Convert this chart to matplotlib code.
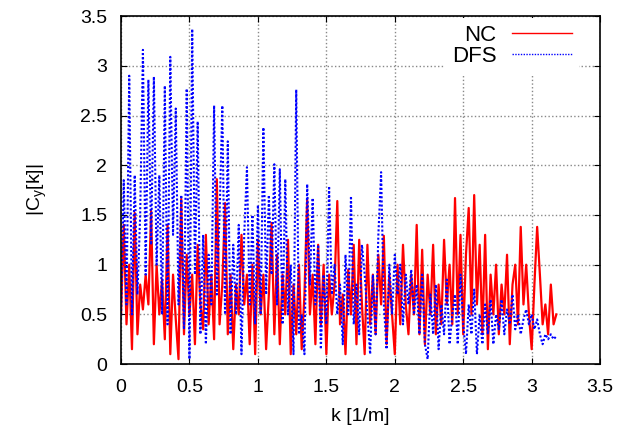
import numpy as np
import matplotlib.pyplot as plt

plt.rcParams['font.family'] = ['Liberation Sans', 'DejaVu Sans']

# k axis, step 0.02 from 0 to 3.18
k = np.arange(160) * 0.02

nc = [0.5, 1.4, 0.4, 1.0, 0.15, 1.52, 0.3, 0.8, 0.55, 0.9,
      0.6, 1.54, 0.2, 1.0, 0.5, 0.85, 0.25, 1.4, 0.1, 0.9,
      0.45, 0.05, 1.66, 0.3, 1.1, 0.5, 0.9, 0.2, 1.2, 0.6,
      0.35, 1.3, 0.4, 0.9, 0.25, 1.86, 0.4, 0.8, 1.62, 0.3,
      0.9, 0.15, 0.8, 0.5, 1.3, 0.6, 0.9, 0.2, 1.0, 0.1,
      1.25, 0.5, 0.9, 0.15, 0.7, 1.42, 0.3, 1.1, 0.2, 0.9,
      0.5, 1.25, 0.1, 0.8, 0.3, 1.0, 0.15, 0.7, 1.66, 0.5,
      0.9, 0.2, 1.2, 0.4, 1.0, 0.1, 0.9, 0.5, 0.8, 1.64,
      0.4, 0.7, 0.1, 0.95, 0.5, 1.2, 0.2, 1.25, 0.6, 0.1,
      1.2, 0.4, 0.9, 0.3, 1.1, 0.6, 1.29, 0.2, 0.9, 0.5,
      0.1, 1.0, 0.4, 1.2, 0.6, 0.3, 0.9, 0.5, 1.4, 0.3,
      1.15, 0.2, 0.9, 0.5, 1.2, 0.3, 0.8, 0.4, 1.25, 0.6,
      1.0, 0.4, 1.67, 0.5, 1.3, 0.3, 1.1, 1.57, 0.5, 1.7,
      0.6, 1.2, 0.3, 1.3, 0.15, 0.9, 0.5, 1.0, 0.3, 0.8,
      0.5, 1.1, 0.2, 0.8, 1.0, 0.4, 1.38, 0.6, 1.0, 0.5,
      0.15, 0.8, 1.38, 0.9, 0.4, 0.6, 0.3, 0.8, 0.4, 0.5]

dfs = [0.45, 1.85, 0.6, 2.9, 0.5, 1.9, 0.7, 1.5, 3.16, 0.9,
       2.86, 1.2, 2.89, 1.0, 1.9, 0.5, 2.8, 0.4, 3.09, 1.3,
       2.57, 0.6, 1.7, 0.35, 2.77, 0.05, 3.37, 0.9, 2.44, 0.3,
       1.3, 0.2, 1.1, 0.6, 2.6, 0.7, 1.5, 2.6, 0.5, 2.24,
       0.3, 1.2, 0.5, 1.4, 0.1, 1.3, 1.98, 0.6, 1.5, 0.4,
       1.6, 0.5, 2.38, 0.7, 1.7, 0.9, 2.01, 0.6, 1.96, 0.4,
       1.86, 0.5, 1.0, 0.1, 2.76, 0.3, 0.5, 0.1, 1.81, 0.8,
       1.67, 0.6, 1.2, 0.15, 0.9, 0.4, 1.79, 0.7, 1.0, 0.5,
       0.8, 0.2, 1.1, 0.5, 1.69, 0.4, 0.8, 0.3, 1.2, 0.9,
       0.5, 0.1, 0.9, 0.3, 1.3, 1.93, 0.6, 0.15, 1.0, 0.5,
       1.1, 0.7, 1.0, 0.4, 0.9, 0.6, 0.95, 0.5, 0.8, 0.3,
       0.9, 0.2, 0.05, 0.7, 0.3, 0.8, 0.15, 0.6, 0.3, 0.85,
       0.2, 0.5, 0.7, 0.2, 0.9, 0.4, 0.1, 0.6, 0.3, 0.75,
       0.1, 0.5, 0.2, 0.6, 0.3, 0.65, 0.2, 0.5, 0.35, 0.65,
       0.3, 0.55, 0.4, 0.7, 0.35, 0.5, 0.3, 0.45, 0.55, 0.4,
       0.5, 0.35, 0.45, 0.3, 0.2, 0.3, 0.25, 0.3, 0.25, 0.28]

fig = plt.figure(figsize=(6.19, 4.34), dpi=100)
ax = fig.add_axes([0.1955, 0.161, 0.774, 0.802])

ax.plot(k, nc, color='#ff0000', lw=1.6, label='NC')
ax.plot(k, dfs, color='#0000ff', lw=1.5, ls=(0, (1, 1)), label='DFS')

ax.set_xlim(0, 3.5)
ax.set_ylim(0, 3.5)
ax.set_xticks(np.arange(0, 3.51, 0.5))
ax.set_yticks(np.arange(0, 3.51, 0.5))
ax.set_xticklabels(['0', '0.5', '1', '1.5', '2', '2.5', '3', '3.5'])
ax.set_yticklabels(['0', '0.5', '1', '1.5', '2', '2.5', '3', '3.5'])
ax.tick_params(direction='in', top=True, right=True, labelsize=14, length=4)
ax.tick_params(axis='x', pad=11)
ax.tick_params(axis='y', pad=10)
ax.grid(True, color='#888888', ls=':', lw=1)
ax.set_axisbelow(True)
for s in ax.spines.values():
    s.set_linewidth(1.2)

ax.set_xlabel('k [1/m]', fontsize=14, labelpad=8)
ax.set_ylabel(r'|C$_\mathregular{y}$[k]|', fontsize=14, labelpad=22)

leg = ax.legend(loc='upper right', bbox_to_anchor=(0.96, 1.0), markerfirst=False,
                fontsize=16, frameon=True, handlelength=2.7, handletextpad=0.7,
                borderpad=0.3, borderaxespad=0.1, labelspacing=0.0)
leg.get_frame().set_edgecolor('none')
leg.get_frame().set_facecolor('white')
leg.get_frame().set_alpha(1)
for h in leg.legend_handles:
    h.set_linewidth(1.0)
for t in leg.get_texts():
    t.set_ha('right')

fig.savefig('out.png', dpi=100)
